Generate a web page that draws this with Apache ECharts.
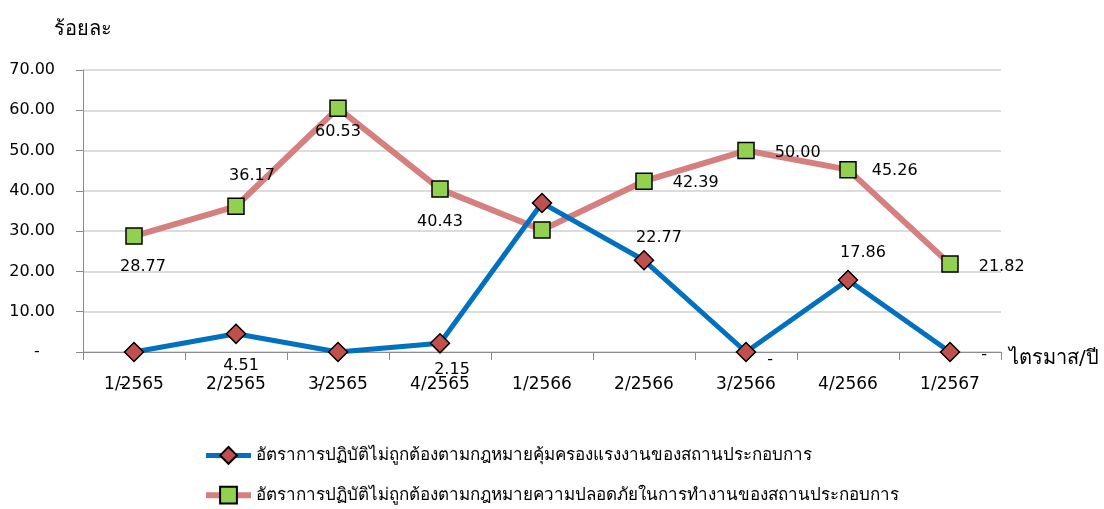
<!DOCTYPE html>
<html>
<head>
<meta charset="utf-8">
<script src="https://cdn.jsdelivr.net/npm/echarts@6/dist/echarts.min.js"></script>
<style>
  html, body { margin: 0; padding: 0; background: #fff; }
  #chart { width: 1104px; height: 509px; }
</style>
</head>
<body>
<div id="chart"></div>
<script>
// quarters and rates (percent)
const quarters = ['1/2565', '2/2565', '3/2565', '4/2565', '1/2566', '2/2566', '3/2566', '4/2566', '1/2567']
const laborRate = [0, 4.51, 0, 2.15, 37.0, 22.77, 0, 17.86, 0]
const safetyRate = [28.77, 36.17, 60.53, 40.43, 30.3, 42.39, 50.00, 45.26, 21.82]
const laborName = 'อัตราการปฏิบัติไม่ถูกต้องตามกฎหมายคุ้มครองแรงงานของสถานประกอบการ'
const safetyName = 'อัตราการปฏิบัติไม่ถูกต้องตามกฎหมายความปลอดภัยในการทำงานของสถานประกอบการ'

// label placement per point (null = no label)
const laborLabelPos = [
  ['bottom', [-12, 10]], ['bottom', [5, 9]], ['bottom', [-18, 10]], ['bottom', [12, 3]],
  null, ['top', [15, 1]], ['right', [6, 8]], ['top', [15, -4]], ['right', [16, 3]]
]
const safetyLabelPos = [
  ['bottom', [9, 9]], ['top', [16, -9]], ['bottom', [0, 2]], ['bottom', [0, 11]],
  null, ['right', [15, 2]], ['right', [15, 2]], ['right', [10, 1]], ['right', [15, 3]]
]

const font = 'Tahoma, "DejaVu Sans", "Noto Sans", sans-serif'

function fmt(v) {
  return v === 0 ? '-' : v.toFixed(2)
}

function buildData(values, pos) {
  return values.map(function(v, i) {
    const p = pos[i]
    return {
      value: v,
      label: p ? { show: true, position: p[0], offset: p[1] } : { show: false }
    }
  })
}

const chart = echarts.init(document.getElementById('chart'))
chart.setOption({
  animation: false,
  textStyle: { fontFamily: font },
  grid: {
    left: 83,
    right: 103,
    top: 70,
    bottom: 157
  },
  legend: {
    orient: 'vertical',
    left: 203,
    top: 446,
    padding: 0,
    itemWidth: 45,
    itemHeight: 21,
    itemGap: 21,
    textStyle: { fontSize: 17, color: '#000', fontFamily: font },
    data: [
      { name: laborName, lineStyle: { width: 5 } },
      { name: safetyName, lineStyle: { width: 6 } }
    ]
  },
  xAxis: {
    type: 'category',
    data: quarters,
    boundaryGap: true,
    name: 'ไตรมาส/ปี',
    nameLocation: 'end',
    nameGap: 8,
    nameTextStyle: { fontSize: 20, color: '#000', verticalAlign: 'top', lineHeight: 14 },
    axisLine: { lineStyle: { color: '#8c8c8c', width: 1 } },
    axisTick: { show: true, length: 8, lineStyle: { color: '#8c8c8c' } },
    axisLabel: { fontSize: 17, color: '#000', margin: 24 }
  },
  yAxis: {
    type: 'value',
    min: 0,
    max: 70,
    interval: 10,
    name: 'ร้อยละ',
    nameLocation: 'end',
    nameGap: 30,
    nameTextStyle: { fontSize: 20, color: '#000', align: 'center' },
    axisLine: { show: true, lineStyle: { color: '#8c8c8c', width: 1 } },
    axisTick: { show: true, length: 7, lineStyle: { color: '#8c8c8c' } },
    splitLine: { lineStyle: { color: '#d0d0d0', width: 1.5 } },
    axisLabel: {
      fontSize: 16,
      color: '#000',
      margin: 28,
      align: 'right',
      formatter: function(v) { return v === 0 ? '-   ' : v.toFixed(2) }
    }
  },
  series: [
    {
      name: laborName,
      type: 'line',
      data: buildData(laborRate, laborLabelPos),
      symbol: 'diamond',
      symbolSize: 19,
      lineStyle: { color: '#0070c0', width: 5 },
      itemStyle: { color: '#c0504d', borderColor: '#000', borderWidth: 1.5 },
      label: {
        fontSize: 16,
        color: '#000',
        formatter: function(p) { return fmt(p.value) }
      },
      z: 3
    },
    {
      name: safetyName,
      type: 'line',
      data: buildData(safetyRate, safetyLabelPos),
      symbol: 'rect',
      symbolSize: 16,
      lineStyle: { color: '#d67f7f', width: 6 },
      itemStyle: { color: '#92d050', borderColor: '#000', borderWidth: 1.5 },
      label: {
        fontSize: 16,
        color: '#000',
        formatter: function(p) { return fmt(p.value) }
      },
      z: 2
    }
  ]
})
</script>
</body>
</html>
